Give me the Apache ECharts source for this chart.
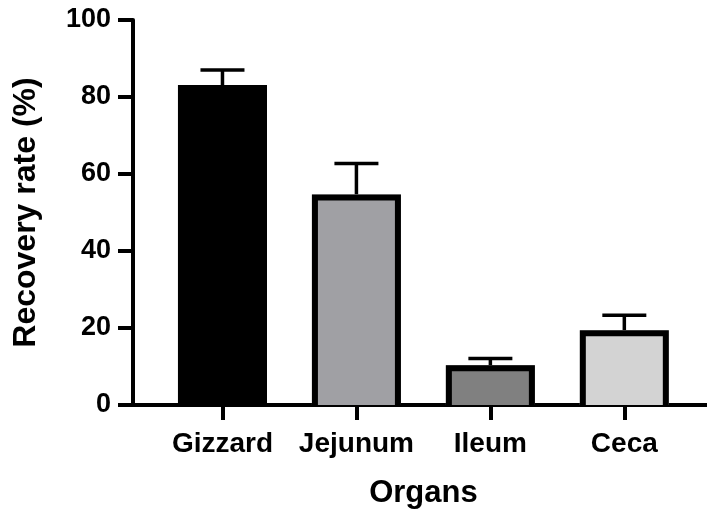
<!DOCTYPE html>
<html>
<head>
<meta charset="utf-8">
<script src="https://cdn.jsdelivr.net/npm/echarts@6/dist/echarts.min.js"></script>
<style>
  html, body { margin: 0; padding: 0; background: #fff; }
  #chart { width: 707px; height: 510px; }
</style>
</head>
<body>
<div id="chart"></div>
<script>
// Recovery rate per organ: mean and upper error (SD)
const organs = ['Gizzard', 'Jejunum', 'Ileum', 'Ceca'];
const recoveryMean = [83.1, 54.7, 10.3, 19.4];
const recoveryErr = [3.9, 8.0, 1.8, 3.9];
const barColors = ['#000000', '#a0a0a4', '#808080', '#d3d3d3'];
const yTicks = [0, 20, 40, 60, 80, 100];

const FONT = '"Liberation Sans", Arial, Helvetica, sans-serif';
const TOP = 20, BOTTOM = 105;
const BAR_W = 89;      // outer bar width in px
const BORDER = 6;      // bar outline width in px

const chart = echarts.init(document.getElementById('chart'), null, { renderer: 'canvas' });

chart.setOption({
  animation: false,
  backgroundColor: '#ffffff',
  grid: [
    // bars
    { left: 155.5, right: 15.7, top: TOP, bottom: BOTTOM, outerBoundsMode: 'none', containLabel: false },
    // frame axes (y axis line and the long x axis line)
    { left: 133, right: 0, top: TOP, bottom: BOTTOM, outerBoundsMode: 'none', containLabel: false }
  ],
  xAxis: [
    {
      type: 'category',
      gridIndex: 0,
      data: organs,
      axisLine: { show: false },
      axisTick: { show: true, alignWithLabel: true, length: 15, inside: false,
                  lineStyle: { color: '#000', width: 4 } },
      axisLabel: { interval: 0, margin: 25, color: '#000', fontFamily: FONT, fontWeight: 'bold', fontSize: 28 },
      name: 'Organs',
      nameLocation: 'middle',
      nameGap: 73,
      nameTextStyle: { color: '#000', fontFamily: FONT, fontWeight: 'bold', fontSize: 31 }
    },
    {
      type: 'value',
      gridIndex: 1,
      min: 0, max: 1,
      axisLine: { show: true, onZero: false, lineStyle: { color: '#000', width: 4 } },
      axisTick: { show: false },
      axisLabel: { show: false },
      splitLine: { show: false }
    }
  ],
  yAxis: [
    {
      type: 'value',
      gridIndex: 0,
      min: 0, max: 100, interval: 20,
      show: false
    },
    {
      type: 'value',
      gridIndex: 1,
      min: yTicks[0], max: yTicks[yTicks.length - 1], interval: 20,
      axisLine: { show: true, lineStyle: { color: '#000', width: 4 } },
      axisTick: { show: true, length: 15, lineStyle: { color: '#000', width: 4 } },
      axisLabel: { margin: 22, color: '#000', fontFamily: FONT, fontWeight: 'bold', fontSize: 27 },
      splitLine: { show: false },
      name: 'Recovery rate (%)',
      nameLocation: 'middle',
      nameRotate: 90,
      nameGap: 91,
      nameTextStyle: { color: '#000', fontFamily: FONT, fontWeight: 'bold', fontSize: 32 }
    }
  ],
  series: [
    {
      // filled bars with an open-bottom outline (left, top, right sides)
      type: 'custom',
      xAxisIndex: 0,
      yAxisIndex: 0,
      data: recoveryMean.map((v, i) => [i, v]),
      renderItem: function (params, api) {
        const i = api.value(0);
        const top = api.coord([i, api.value(1)]);
        const base = api.coord([i, 0]);
        const cx = top[0];
        const half = BAR_W / 2;
        const inner = half - BORDER / 2;
        return {
          type: 'group',
          children: [
            {
              type: 'rect',
              shape: { x: cx - half, y: top[1], width: BAR_W, height: base[1] - top[1] },
              style: { fill: barColors[i] }
            },
            {
              type: 'polyline',
              shape: { points: [
                [cx - inner, base[1]],
                [cx - inner, top[1] + BORDER / 2],
                [cx + inner, top[1] + BORDER / 2],
                [cx + inner, base[1]]
              ] },
              style: { stroke: '#000', lineWidth: BORDER, fill: null, lineJoin: 'miter' }
            }
          ]
        };
      },
      z: 2
    },
    {
      // upper error bars with caps
      type: 'custom',
      xAxisIndex: 0,
      yAxisIndex: 0,
      data: recoveryMean.map((v, i) => [i, v, v + recoveryErr[i]]),
      renderItem: function (params, api) {
        const base = api.coord([api.value(0), api.value(1)]);
        const top = api.coord([api.value(0), api.value(2)]);
        const half = 22;
        const style = { stroke: '#000', lineWidth: 3.5 };
        return {
          type: 'group',
          children: [
            { type: 'line', shape: { x1: base[0], y1: base[1], x2: top[0], y2: top[1] }, style },
            { type: 'line', shape: { x1: top[0] - half, y1: top[1], x2: top[0] + half, y2: top[1] }, style }
          ]
        };
      },
      z: 1
    }
  ]
});
</script>
</body>
</html>
